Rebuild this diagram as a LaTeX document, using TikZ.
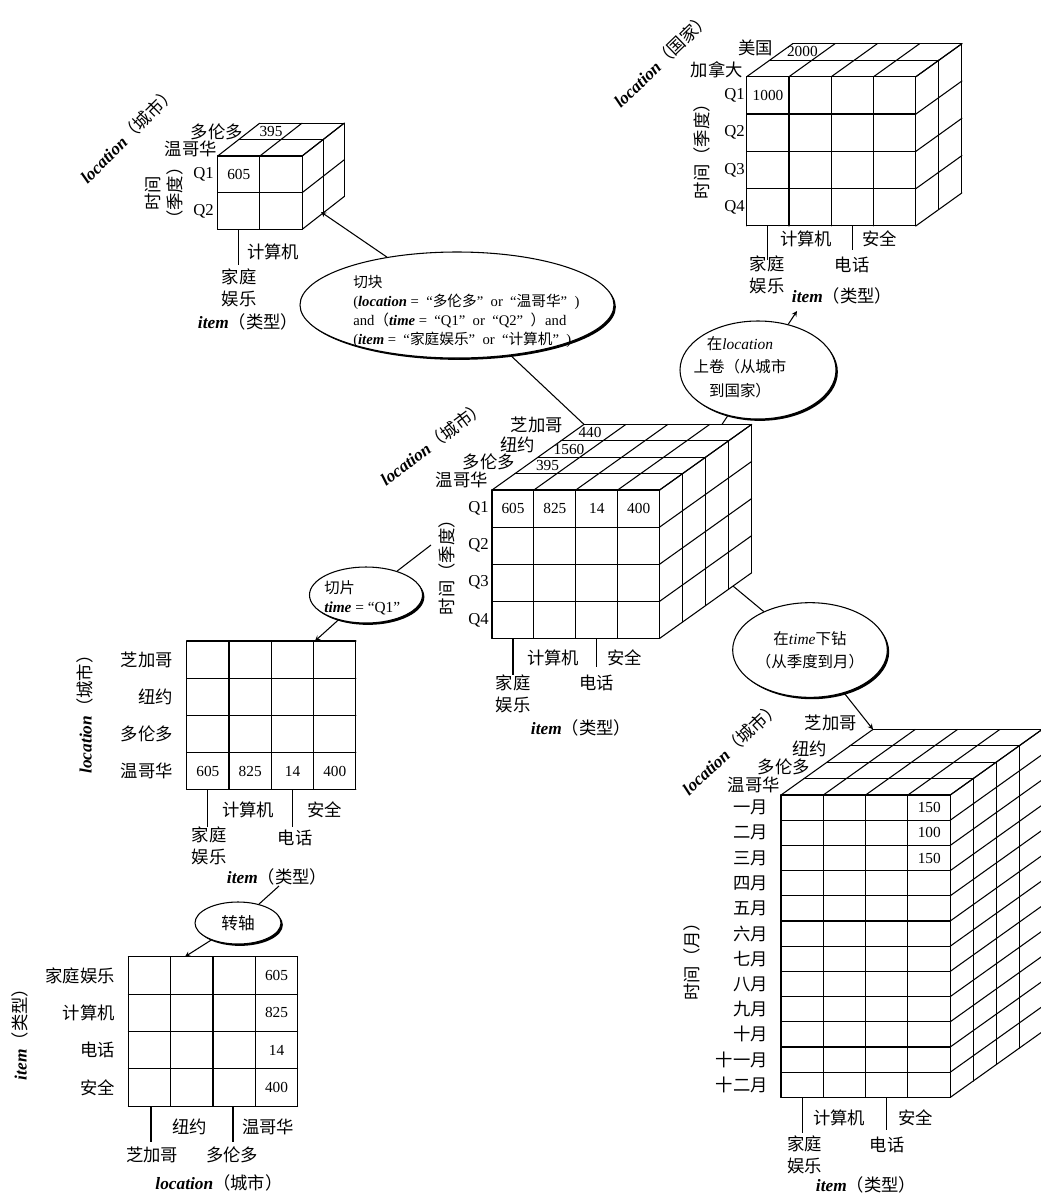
\documentclass[tikz,border=0pt]{standalone}
\usepackage{fontspec}
\setmainfont{Liberation Serif}
\newfontfamily\cjk{Noto Sans CJK SC}
\usetikzlibrary{shapes.geometric, arrows, shadows}
\newcommand{\zq}[1]{\hspace{.5em}“{#1}”\hspace{.5em}}

\begin{document}
\begin{tikzpicture}[x=0.75pt, y=-0.75pt,
  grid/.style={line width=0.8pt, line cap=round},
  line/.style={line width=0.8pt},
  arrow/.style={->, >=stealth, line width=0.8pt},
  lab/.style={font=\cjk\fontsize{13}{16.5}\selectfont, inner sep=0pt},
  num/.style={font=\fontsize{11.5}{13}\selectfont, inner sep=0pt},
  qlab/.style={font=\fontsize{12.5}{14}\selectfont, inner sep=0pt, anchor=east},
  axis/.style={font=\fontsize{13}{16}\selectfont, inner sep=0pt},
  oval/.style={ellipse, draw, line width=0.8pt, fill=white, inner sep=0pt,
    drop shadow={opacity=1, fill=black, shadow xshift=1.4pt, shadow yshift=-1.4pt}},
  small/.style={font=\fontsize{11}{14.25}\selectfont, inner sep=0pt},
  mid/.style={font=\fontsize{11.6}{17.6}\selectfont, inner sep=0pt}
]
\useasboundingbox (0,0) rectangle (1041,1197);

% 中间的立方体
\foreach \i in {0,...,4} {
  \draw[grid] ({492+\i*41.9},490) -- ++(0,148.4);
  \draw[grid] ({492+\i*41.9},490) -- ++(92,-65.6);
  \draw[grid] (492,{490+\i*37.1}) -- ++(167.6,0);
  \draw[grid] (659.6,{490+\i*37.1}) -- ++(92,-65.6);
  \draw[grid] ({492+\i*23},{490-\i*16.4}) -- ++(167.6,0);
  \draw[grid] ({659.6+\i*23},{490-\i*16.4}) -- ++(0,148.4);
}
\node[lab, anchor=east] (cvan) at (488,480) {温哥华};
\node[lab, anchor=east] (ctor) at (515,462) {多伦多};
\node[lab, anchor=east] (cny) at (535,445) {纽约};
\node[lab, anchor=east] (cchi) at (563,425) {芝加哥};
\node[num] (c395) at (547.5,465.4) {395};
\node[num] (c1560) at (569,449) {1560};
\node[num] (c440) at (590,432.6) {440};
\foreach \v [count=\i from 0] in {605,825,14,400}
  \node[num] (cv\i) at ({513+\i*41.9},508.6) {\v};
\foreach \q [count=\j from 0] in {Q1,Q2,Q3,Q4}
  \node[qlab] (cq\j) at (489,{508.6+\j*37.1}) {\q};
\node[lab, rotate=90] (ctime) at (447,563) {时间（季度）};
\node[axis, rotate=37] (cloc) at (433,443) {\textbf{\textit{location}}{\cjk （城市）}};
\coordinate (ct1) at (513,638.4);
\coordinate (cb1) at (513,675);
\coordinate (ct2) at (596.8,638.4);
\coordinate (cb2) at (596.8,667);
\draw[line] (ct1) -- (cb1);
\draw[line] (ct2) -- (cb2);
\node[lab, anchor=west] (ccomp) at (527,658) {计算机};
\node[lab, anchor=west] (csec) at (607,658) {安全};
\node[lab, align=center] (chome) at (513,694) {家庭\\娱乐};
\node[lab] (cphone) at (596.8,683) {电话};
\node[axis] (citem) at (581,728) {\textbf{\textit{item}}{\cjk （类型）}};

% 上卷后的立方体
\foreach \i in {0,...,4} {
  \draw[grid] ({746.7+\i*42.3},76.7) -- ++(0,149.2);
  \draw[grid] ({746.7+\i*42.3},76.7) -- ++(46,-33);
  \draw[grid] (746.7,{76.7+\i*37.3}) -- ++(169.2,0);
  \draw[grid] (915.9,{76.7+\i*37.3}) -- ++(46,-33);
}
\foreach \k in {1,2} {
  \draw[grid] ({746.7+\k*23},{76.7-\k*16.5}) -- ++(169.2,0);
  \draw[grid] ({915.9+\k*23},{76.7-\k*16.5}) -- ++(0,149.2);
}
\node[lab, anchor=east] (rcan) at (743,70) {加拿大};
\node[lab, anchor=east] (rusa) at (773,48) {美国};
\node[num] (r2000) at (802.4,51.9) {2000};
\node[num] (r1000) at (768,95.3) {1000};
\foreach \q [count=\j from 0] in {Q1,Q2,Q3,Q4}
  \node[qlab] (rq\j) at (745,{95.3+\j*37.3}) {\q};
\node[lab, rotate=90] (rtime) at (702,147) {时间（季度）};
\node[axis, rotate=44] (rloc) at (662,60) {\textbf{\textit{location}}{\cjk （国家）}};
\coordinate (rt1) at (767.9,225.9);
\coordinate (rb1) at (767.9,260);
\coordinate (rt2) at (852.5,225.9);
\coordinate (rb2) at (852.5,250);
\draw[line] (rt1) -- (rb1);
\draw[line] (rt2) -- (rb2);
\node[lab, anchor=west] (rcomp) at (780,239) {计算机};
\node[lab, anchor=west] (rsec) at (862,239) {安全};
\node[lab, align=center] (rhome) at (767,275) {家庭\\娱乐};
\node[lab] (rphone) at (852,265) {电话};
\node[axis] (ritem) at (842,296) {\textbf{\textit{item}}{\cjk （类型）}};

% 切块后的立方体
\foreach \i in {0,1,2} {
  \draw[grid] ({217.7+\i*42.2},156) -- ++(0,73.4);
  \draw[grid] ({217.7+\i*42.2},156) -- ++(42,-32.8);
  \draw[grid] (217.7,{156+\i*36.7}) -- ++(84.4,0);
  \draw[grid] (302.1,{156+\i*36.7}) -- ++(42,-32.8);
  \draw[grid] ({217.7+\i*21},{156-\i*16.4}) -- ++(84.4,0);
  \draw[grid] ({302.1+\i*21},{156-\i*16.4}) -- ++(0,73.4);
}
\node[lab, anchor=east] (dvan) at (217,149) {温哥华};
\node[lab, anchor=east] (dtor) at (243,132) {多伦多};
\node[num] (d395) at (271,131.4) {395};
\node[num] (d605) at (238.8,174.4) {605};
\node[qlab] (dq0) at (214,174.4) {Q1};
\node[qlab] (dq1) at (214,211) {Q2};
\node[lab, rotate=90, align=center] (dtime) at (164,193) {时间\\（季度）};
\node[axis, rotate=45] (dloc) at (128,135) {\textbf{\textit{location}}{\cjk （城市）}};
\coordinate (dt1) at (238.8,229.4);
\coordinate (db1) at (238.8,265);
\draw[line] (dt1) -- (db1);
\node[lab, anchor=west] (dcomp) at (247,252) {计算机};
\node[lab, align=center] (dhome) at (239,288) {家庭\\娱乐};
\node[axis] (ditem) at (248,322) {\textbf{\textit{item}}{\cjk （类型）}};

% 下钻后的立方体
\foreach \i in {0,...,4} {
  \draw[grid] ({781+\i*42.3},795) -- ++(0,302.4);
  \draw[grid] ({781+\i*42.3},795) -- ++(92,-65.6);
  \draw[grid] ({781+\i*23},{795-\i*16.4}) -- ++(169.2,0);
  \draw[grid] ({950.2+\i*23},{795-\i*16.4}) -- ++(0,302.4);
}
\foreach \j in {0,...,12} {
  \draw[grid] (781,{795+\j*25.2}) -- ++(169.2,0);
  \draw[grid] (950.2,{795+\j*25.2}) -- ++(92,-65.6);
}
\node[lab, anchor=east] (mvan) at (780,785) {温哥华};
\node[lab, anchor=east] (mtor) at (810,767) {多伦多};
\node[lab, anchor=east] (mny) at (827,749) {纽约};
\node[lab, anchor=east] (mchi) at (857,723) {芝加哥};
\foreach \m [count=\j from 0] in {一月,二月,三月,四月,五月,六月,七月,八月,九月,十月,十一月,十二月}
  \node[lab, anchor=east] (mm\j) at (768,{807.6+\j*25.2}) {\m};
\foreach \v [count=\j from 0] in {150,100,150}
  \node[num] (mv\j) at (929.3,{807.6+\j*25.2}) {\v};
\node[lab, rotate=90] (mtime) at (692,957) {时间（月）};
\node[axis, rotate=43] (mloc) at (731,748) {\textbf{\textit{location}}{\cjk （城市）}};
\coordinate (mt1) at (802.2,1097.4);
\coordinate (mb1) at (802.2,1133);
\coordinate (mt2) at (886.8,1097.4);
\coordinate (mb2) at (886.8,1130);
\draw[line] (mt1) -- (mb1);
\draw[line] (mt2) -- (mb2);
\node[lab, anchor=west] (mcomp) at (813,1118) {计算机};
\node[lab, anchor=west] (msec) at (898,1118) {安全};
\node[lab, align=center] (mhome) at (804.5,1155) {家庭\\娱乐};
\node[lab] (mphone) at (887,1145) {电话};
\node[axis] (mitem) at (866,1185) {\textbf{\textit{item}}{\cjk （类型）}};

% 切片
\foreach \i in {0,...,4} {
  \draw[grid] ({186.7+\i*42.3},641) -- ++(0,148.4);
  \draw[grid] (186.7,{641+\i*37.1}) -- ++(169.2,0);
}
\foreach \c [count=\j from 0] in {芝加哥,纽约,多伦多,温哥华}
  \node[lab, anchor=east] (sc\j) at (173,{659.6+\j*37.1}) {\c};
\foreach \v [count=\i from 0] in {605,825,14,400}
  \node[num] (sv\i) at ({207.9+\i*42.3},771.2) {\v};
\node[axis, rotate=90] (sloc) at (85,710) {\textbf{\textit{location}}{\cjk （城市）}};
\coordinate (st1) at (207.9,789.4);
\coordinate (sb1) at (207.9,827);
\coordinate (st2) at (292.5,789.4);
\coordinate (sb2) at (292.5,827);
\draw[line] (st1) -- (sb1);
\draw[line] (st2) -- (sb2);
\node[lab, anchor=west] (scomp) at (222,810) {计算机};
\node[lab, anchor=west] (ssec) at (307,810) {安全};
\node[lab, align=center] (shome) at (209,846) {家庭\\娱乐};
\node[lab] (sphone) at (295,838) {电话};
\node[axis] (sitem) at (277,877) {\textbf{\textit{item}}{\cjk （类型）}};

% 转轴
\foreach \i in {0,...,4} {
  \draw[grid] ({128.3+\i*42.35},956.7) -- ++(0,149.4);
  \draw[grid] (128.3,{956.7+\i*37.35}) -- ++(169.4,0);
}
\foreach \c [count=\j from 0] in {家庭娱乐,计算机,电话,安全}
  \node[lab, anchor=east] (pc\j) at (115,{975.4+\j*37.35}) {\c};
\foreach \v [count=\j from 0] in {605,825,14,400}
  \node[num] (pv\j) at (276.5,{975.4+\j*37.35}) {\v};
\node[axis, rotate=90] (pitem) at (20,1030) {\textbf{\textit{item}}{\cjk （类型）}};
\coordinate (pt1) at (151,1106.1);
\coordinate (pb1) at (151,1142);
\coordinate (pt2) at (233,1106.1);
\coordinate (pb2) at (233,1142);
\draw[line] (pt1) -- (pb1);
\draw[line] (pt2) -- (pb2);
\node[lab, anchor=west] (pny) at (172,1127) {纽约};
\node[lab, anchor=west] (pvan) at (242,1127) {温哥华};
\node[lab] (pchi) at (152,1155) {芝加哥};
\node[lab] (ptor) at (232,1155) {多伦多};
\node[axis] (ploc) at (219,1183) {\textbf{\textit{location}}{\cjk （城市）}};

% 操作
\node[oval, minimum width=235.5pt, minimum height=79.5pt] (dice) at (457,305) {};
\node[small, anchor=west, align=left] (dicetxt) at (353,311.5) {{\cjk 切块}\\
  (\textbf{\textit{location}} =\zq{\cjk 多伦多}or\zq{\cjk 温哥华})\\
  and{\cjk （}\textbf{\textit{time}} =\zq{Q1}or\zq{Q2}{\cjk ）}and\\
  (\textbf{\textit{item}} =\zq{\cjk 家庭娱乐}or\zq{\cjk 计算机})};
\node[oval, minimum width=117pt, minimum height=73.5pt] (roll) at (758,370) {};
\node[mid, align=center] (rolltxt) at (740,367) {{\cjk 在}\textit{location}\\{\cjk 上卷（从城市}\\{\cjk 到国家）}};
\node[oval, minimum width=84.75pt, minimum height=42pt] (slice) at (366,595) {};
\node[small, font=\fontsize{11.5}{14.25}\selectfont, anchor=west, align=left] (slicetxt) at (324,597.5) {{\cjk 切片}\\\textbf{\textit{time}} = “Q1”};
\node[oval, mid, align=center, minimum width=116pt, minimum height=71pt] (drill) at (810,650) {{\cjk 在}\textit{time}{\cjk 下钻}\\{\cjk （从季度到月）}};
\node[oval, lab, font=\cjk\fontsize{12.5}{14}\selectfont, minimum width=64.5pt, minimum height=31.5pt] (pivot) at (238,923) {转轴};

% 连线
\coordinate (cback) at (584,424.4);
\coordinate (dhit) at (321,212);
\coordinate (ctop) at (722,424.4);
\coordinate (rhit) at (797,311);
\coordinate (cleft) at (431,545);
\coordinate (shit) at (315,641);
\coordinate (cright) at (733,586);
\coordinate (mhit) at (873,729.4);
\coordinate (sfoot) at (279,886);
\coordinate (phit) at (185,956.7);
\draw[line] (cback) -- (dice);
\draw[arrow] (dice) -- (dhit);
\draw[line] (ctop) -- (roll);
\draw[arrow] (roll) -- (rhit);
\draw[line] (cleft) -- (slice);
\draw[arrow] (slice) -- (shit);
\draw[line] (cright) -- (drill);
\draw[arrow] (drill) -- (mhit);
\draw[line] (sfoot) -- (pivot);
\draw[arrow] (pivot) -- (phit);
\end{tikzpicture}
\end{document}
